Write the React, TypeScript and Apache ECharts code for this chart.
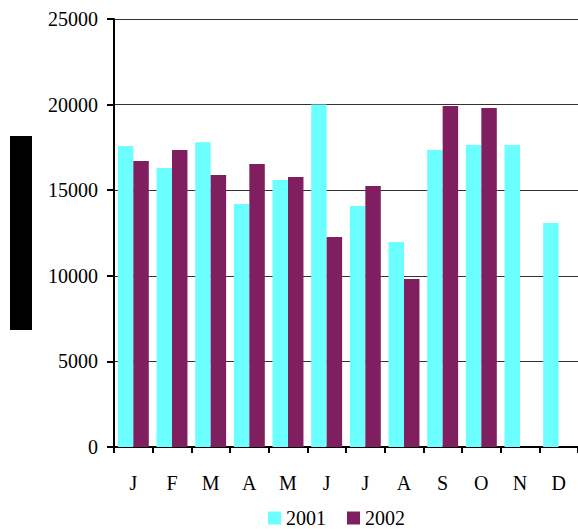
import React, { useEffect, useRef } from "react";
import * as echarts from "echarts";

const categories = ["J", "F", "M", "A", "M", "J", "J", "A", "S", "O", "N", "D"];
const series2001 = [17580, 16300, 17800, 14200, 15600, 20000, 14080, 11970, 17350, 17640, 17640, 13080];
const series2002: (number | string)[] = [16700, 17350, 15890, 16530, 15770, 12270, 15250, 9810, 19920, 19800, "-", "-"];
const yTicks = { min: 0, max: 25000, interval: 5000 };

const FONT = '"Liberation Serif", "Times New Roman", serif';

export default function App() {
  const ref = useRef<HTMLDivElement>(null);
  useEffect(() => {
    document.body.style.margin = "0";
    const chart = echarts.init(ref.current!, null, { renderer: "svg" });
    chart.setOption({
      animation: false,
      backgroundColor: "#ffffff",
      grid: { left: 114, top: 19, bottom: 82, right: -6 },
      legend: {
        left: 268,
        top: 508,
        itemWidth: 13,
        itemHeight: 13,
        itemGap: 21,
        padding: 0,
        icon: "rect",
        textStyle: { fontFamily: FONT, fontSize: 20, lineHeight: 15, color: "#000" },
        data: ["2001", "2002"],
      },
      xAxis: {
        type: "category",
        data: categories,
        axisLine: { lineStyle: { color: "#000", width: 2 } },
        axisTick: { show: true, length: 6, lineStyle: { color: "#000", width: 2 }, alignWithLabel: false },
        axisLabel: { fontFamily: FONT, fontSize: 20, color: "#000", margin: 26, interval: 0 },
        splitLine: { show: false },
      },
      yAxis: {
        type: "value",
        min: yTicks.min,
        max: yTicks.max,
        interval: yTicks.interval,
        axisLine: { show: true, lineStyle: { color: "#000", width: 2 } },
        axisTick: { show: true, length: 7, lineStyle: { color: "#000", width: 2 } },
        axisLabel: {
          fontFamily: FONT,
          fontSize: 20,
          color: "#000",
          margin: 16,
          formatter: (v: number) => String(v),
        },
        splitLine: { show: true, lineStyle: { color: "#333", width: 1 } },
      },
      series: [
        {
          name: "2001",
          type: "bar",
          data: series2001,
          barGap: "0%",
          barCategoryGap: "20%",
          itemStyle: { color: "#6BFFFF" },
        },
        {
          name: "2002",
          type: "bar",
          data: series2002,
          barGap: "0%",
          barCategoryGap: "20%",
          itemStyle: { color: "#7F1F5F" },
        },
      ],
      graphic: [
        { type: "rect", left: 10, top: 136, shape: { width: 22, height: 194 }, style: { fill: "#000" } },
      ],
    });
    return () => chart.dispose();
  }, []);
  return <div ref={ref} style={{ width: 578, height: 529 }} />;
}
